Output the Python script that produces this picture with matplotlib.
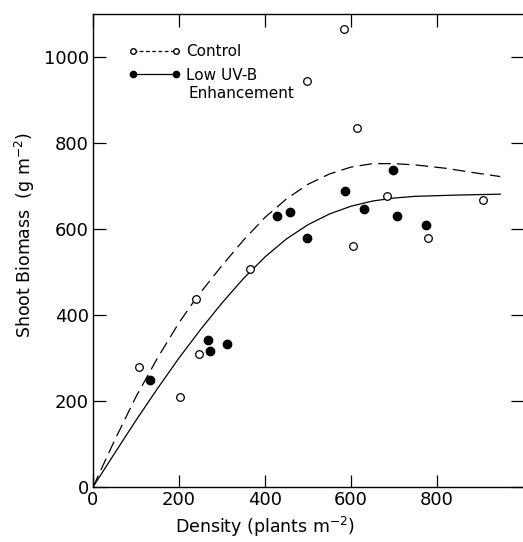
"""
shoot biomass against plant density, control vs low UV-B enhancement.
"""
import matplotlib
matplotlib.use("Agg")
import matplotlib.pyplot as plt

# control plots (open circles)
control_density = [108, 202, 240, 247, 364, 498, 584, 604, 615, 683, 780, 908]
control_biomass = [278, 209, 437, 309, 508, 944, 1065, 560, 836, 677, 578, 667]

# low UV-B enhancement plots (filled circles)
uvb_density = [133, 267, 272, 312, 427, 457, 497, 587, 630, 697, 708, 775]
uvb_biomass = [249, 341, 317, 333, 631, 640, 578, 689, 646, 737, 631, 610]

# fitted curves
control_fit_x = [0, 50, 100, 150, 200, 241, 300, 350, 400, 450, 500, 550, 600, 650, 700, 750, 822, 885, 947]
control_fit_y = [0, 108, 210, 300, 382, 441, 515, 574, 627, 670, 704, 728, 744, 752, 752, 749, 741, 731, 722]
uvb_fit_x = [0, 50, 100, 150, 200, 250, 300, 350, 400, 450, 500, 550, 600, 650, 700, 750, 850, 947]
uvb_fit_y = [0, 78, 155, 229, 300, 366, 428, 485, 535, 577, 610, 635, 653, 665, 672, 676, 679, 681]

xticks = [0, 200, 400, 600, 800]
yticks = [0, 200, 400, 600, 800, 1000]


def main():
    plt.rcParams['font.family'] = 'DejaVu Sans'
    fig = plt.figure(figsize=(5.23, 5.42), dpi=100)
    ax = fig.add_axes([93 / 523, 1 - 487 / 542, 430 / 523, 473 / 542])

    # fitted lines
    ax.plot(control_fit_x, control_fit_y, color='black', lw=0.9, dashes=[10, 5])
    ax.plot(uvb_fit_x, uvb_fit_y, color='black', lw=0.9)

    # data points
    ax.plot(control_density, control_biomass, 'o', ms=5.5, mfc='white', mec='black', mew=0.9)
    ax.plot(uvb_density, uvb_biomass, 'o', ms=6, mfc='black', mec='black')

    ax.set_xlim(0, 1000)
    ax.set_ylim(0, 1100)
    ax.set_xticks(xticks)
    ax.set_yticks(yticks)
    ax.tick_params(direction='in', length=9, width=0.9, labelsize=13,
                   top=True, right=True, pad=3)
    ax.spines['right'].set_visible(False)
    for s in ['left', 'bottom', 'top']:
        ax.spines[s].set_linewidth(1.0)

    ax.set_xlabel('Density (plants m$^{-2}$)', fontsize=12.5)
    ax.set_ylabel('Shoot Biomass  (g m$^{-2}$)', fontsize=12.5)
    ax.xaxis.set_label_coords(0.40, -0.058)
    ax.yaxis.set_label_coords(-0.13, 0.533)

    # legend keys: line with a marker at both ends
    ctrl_key, = ax.plot([], [], color='black', lw=0.9, dashes=[3, 2], marker='o',
                        ms=4, mfc='white', mec='black')
    uvb_key, = ax.plot([], [], color='black', lw=0.9, marker='o', ms=4.5,
                       mfc='black', mec='black')
    ax.legend([ctrl_key, uvb_key], ['Control', 'Low UV-B'], loc='upper left',
              bbox_to_anchor=(0.05, 0.965), frameon=False, numpoints=2,
              handlelength=3.4, handletextpad=0.4, labelspacing=0.55,
              fontsize=11)
    ax.text(0.222, 0.831, 'Enhancement', transform=ax.transAxes, fontsize=11,
            va='center', ha='left')

    fig.savefig('out.png', dpi=100)


if __name__ == '__main__':
    main()
